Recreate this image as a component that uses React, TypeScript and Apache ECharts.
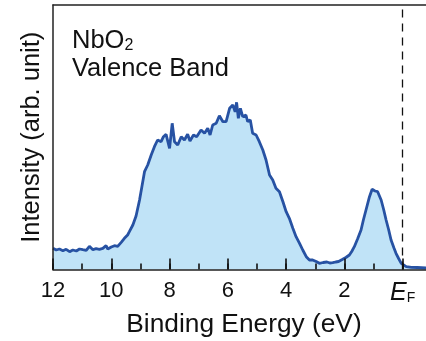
import React, { useEffect, useRef } from "react";
import * as echarts from "echarts";

const energy = [
  12.0, 11.89, 11.78, 11.66, 11.55, 11.43, 11.32, 11.2, 11.09, 10.98, 10.86, 10.75, 10.63, 10.52, 10.41, 10.29,
  10.18, 10.12, 10.0, 9.89, 9.78, 9.66, 9.55, 9.44, 9.38, 9.26, 9.15, 9.03, 8.92, 8.86, 8.75, 8.63, 8.52, 8.41,
  8.29, 8.21, 8.12, 8.0, 7.91, 7.83, 7.72, 7.6, 7.49, 7.38, 7.3, 7.18, 7.07, 6.92, 6.8, 6.69, 6.61, 6.52, 6.4,
  6.29, 6.17, 6.06, 5.94, 5.83, 5.75, 5.7, 5.64, 5.57, 5.49, 5.38, 5.32, 5.23, 5.15, 5.03, 4.92, 4.8, 4.69, 4.57,
  4.46, 4.35, 4.23, 4.11, 4.0, 3.89, 3.77, 3.66, 3.54, 3.43, 3.31, 3.2, 3.09, 2.97, 2.86, 2.73, 2.6, 2.5, 2.4,
  2.3, 2.2, 2.06, 1.95, 1.83, 1.75, 1.66, 1.55, 1.43, 1.35, 1.26, 1.14, 1.05, 0.95, 0.86, 0.74, 0.65, 0.57, 0.48,
  0.4, 0.3, 0.23, 0.14, 0.05, -0.12, -0.3, -0.5, -0.8,
];

const intensity = [
  21.2, 19.5, 20.5, 18.8, 20.2, 17.8, 19.5, 18.5, 20.5, 19.8, 19.2, 23.2, 19.8, 20.8, 20.2, 21.2,
  23.8, 20.5, 22.5, 23.8, 23.2, 27.2, 31.2, 34.5, 37.8, 44.5, 53.5, 69.5, 87.8, 97.8, 104.5, 114.5, 122.8, 129.5,
  127.8, 132.8, 135.2, 121.2, 146.2, 127.8, 124.5, 132.8, 129.5, 135.2, 128.5, 134.5, 132.8, 139.5, 136.2, 141.2, 134.5, 144.5, 146.2,
  153.8, 147.8, 147.8, 161.2, 164.5, 157.8, 167.2, 151.2, 161.2, 152.8, 154.5, 147.8, 149.5, 136.2, 134.5, 127.8, 119.5, 109.5, 94.5,
  89.5, 81.2, 77.8, 67.8, 57.8, 51.2, 41.2, 32.8, 26.2, 19.5, 12.8, 9.5, 9.5, 8.0, 6.2, 7.0, 7.5, 6.5, 6.8,
  7.5, 8.0, 10.2, 12.0, 14.5, 18.0, 22.8, 30.5, 39.5, 49.5, 59.5, 72.8, 80.2, 78.5, 77.8, 69.5, 59.5, 49.5, 39.5,
  29.5, 21.5, 16.2, 11.0, 6.2, 2.8, 2.2, 2.0, 1.5,
];

// axis extent (eV); the part below -0.8 lies outside the 426px window, as in the reference
const axisMin = -2;
const axisMax = 12;
const majorStep = 2;
const minorStep = 1;
const fermiLevel = [0];

export default function App() {
  const ref = useRef<HTMLDivElement>(null);
  useEffect(() => {
    if (!ref.current) return;
    const chart = echarts.init(ref.current, undefined, { renderer: "svg" });
    const data = energy.map((e, i) => [e, intensity[i]]);
    const axisColor = "#111";
    const font = "Liberation Sans, Arial, sans-serif";
    chart.setOption({
      animation: false,
      textStyle: { fontFamily: font },
      grid: { left: 53, right: -35, top: 5, bottom: 71.5, containLabel: false, outerBoundsMode: "none" },
      xAxis: [
        {
          type: "value",
          inverse: true,
          min: axisMin,
          max: axisMax,
          interval: majorStep,
          position: "bottom",
          z: 10,
          axisLine: { show: true, onZero: false, lineStyle: { color: "#222", width: 1.5 } },
          axisTick: { show: true, inside: true, length: 11, lineStyle: { color: axisColor, width: 1.6 } },
          axisLabel: {
            fontSize: 22,
            color: "#111",
            margin: 9,
            formatter: (v: number) => (v < 0 ? "" : v === 0 ? "{e|E}{f|F}" : String(v)),
            rich: {
              e: { fontSize: 25, fontStyle: "italic", color: "#111" },
              f: { fontSize: 14, color: "#111", verticalAlign: "bottom", padding: [8, 0, 0, 0] },
            },
          },
          splitLine: { show: false },
          name: "Binding Energy (eV)",
          nameLocation: "middle",
          nameGap: 40,
          nameTextStyle: { fontSize: 26.3, color: "#111", padding: [0, 26, 0, 0] },
        },
        {
          type: "value",
          inverse: true,
          min: axisMin,
          max: axisMax,
          interval: minorStep,
          position: "bottom",
          z: 9,
          axisLine: { show: false, onZero: false },
          axisTick: { show: true, inside: true, length: 6, lineStyle: { color: axisColor, width: 1.6 } },
          axisLabel: { show: false },
          splitLine: { show: false },
        },
        {
          type: "value",
          inverse: true,
          min: axisMin,
          max: axisMax,
          position: "top",
          z: 10,
          axisLine: { show: true, onZero: false, lineStyle: { color: "#222", width: 1.5 } },
          axisTick: { show: false },
          axisLabel: { show: false },
          splitLine: { show: false },
        },
      ],
      yAxis: {
        type: "value",
        min: 0,
        max: 264.5,
        z: 10,
        axisLine: { show: true, onZero: false, lineStyle: { color: "#222", width: 1.5 } },
        axisTick: { show: false },
        axisLabel: { show: false },
        splitLine: { show: false },
        name: "Intensity (arb. unit)",
        nameLocation: "middle",
        nameGap: 10,
        nameTextStyle: { fontSize: 25.5, color: "#111" },
      },
      graphic: [
        {
          type: "text",
          x: 72,
          y: 39,
          style: {
            text: "{a|NbO}{b|2}",
            verticalAlign: "middle",
            rich: {
              a: { fontSize: 25.5, fill: "#111", fontFamily: font },
              b: { fontSize: 16, fill: "#111", verticalAlign: "bottom", padding: [10, 0, 0, 0], fontFamily: font },
            },
          },
        },
        {
          type: "text",
          x: 72,
          y: 67,
          style: {
            text: "Valence Band",
            fontSize: 25.5,
            fill: "#111",
            verticalAlign: "middle",
            fontFamily: font,
          },
        },
      ],
      series: [
        {
          type: "line",
          xAxisIndex: 0,
          data,
          symbol: "none",
          smooth: false,
          z: 1,
          lineStyle: { color: "#2752a3", width: 2.8 },
          // translucent fill over white gives the light blue of the reference while letting the inner ticks show
          areaStyle: { color: "#8fcdf0", opacity: 0.56 },
          markLine: {
            silent: true,
            symbol: "none",
            label: { show: false },
            lineStyle: { color: "#111", width: 1.3, type: [8, 6] },
            data: fermiLevel.map((x) => ({ xAxis: x })),
          },
        },
      ],
    });
    return () => chart.dispose();
  }, []);
  return <div ref={ref} style={{ position: "fixed", left: 0, top: 0, width: 426, height: 341 }} />;
}
